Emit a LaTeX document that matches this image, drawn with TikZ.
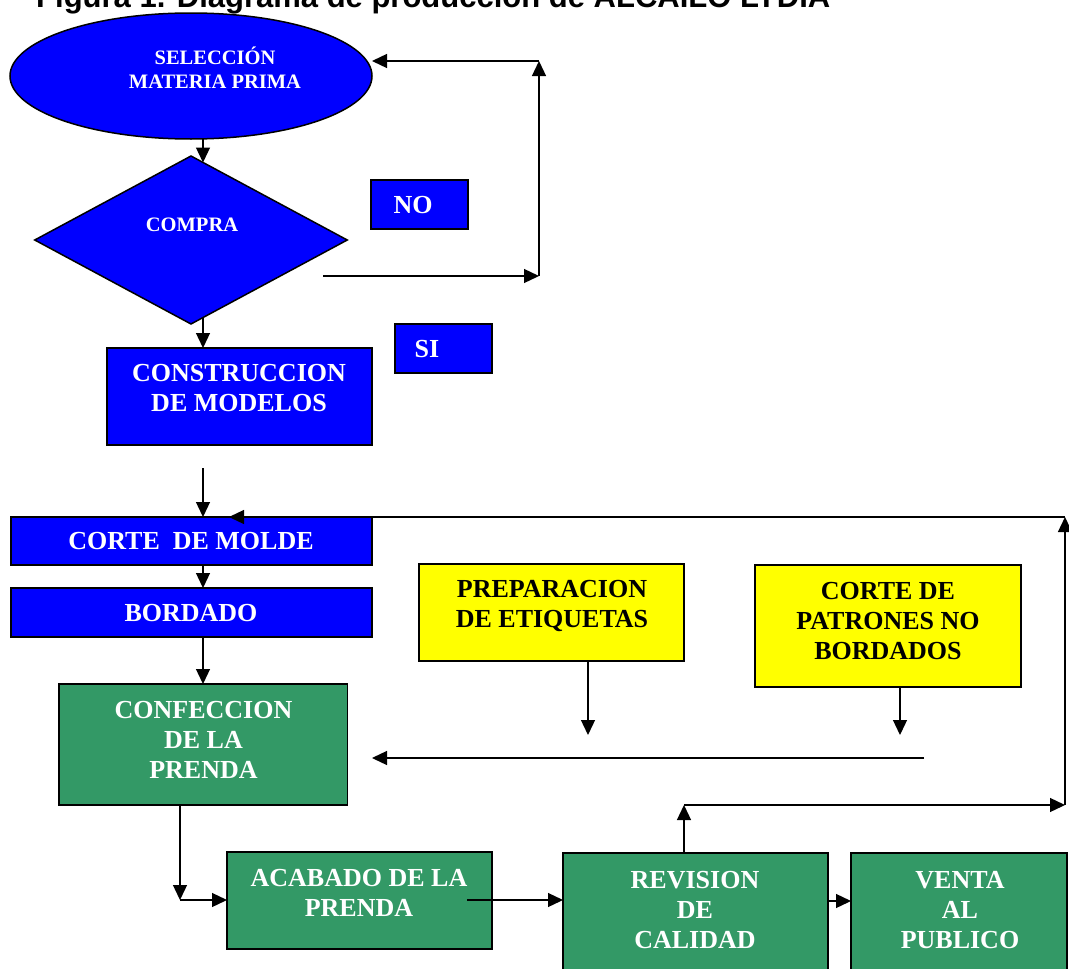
\documentclass[tikz,border=0pt]{standalone}
\usepackage{fontspec}
\setmainfont{Liberation Serif}
\newfontfamily\titlefont{Liberation Sans}
\usetikzlibrary{arrows.meta,shapes.geometric,calc}
\definecolor{fblue}{RGB}{0,0,255}
\definecolor{fgreen}{RGB}{51,153,102}
\definecolor{fyellow}{RGB}{255,255,0}
\begin{document}
\begin{tikzpicture}[x=1pt,y=-1pt,
  shp/.style={draw=black,line width=1.5pt,inner sep=0pt,outer sep=0pt},
  bluebox/.style={shp,rectangle,fill=fblue},
  greenbox/.style={shp,rectangle,fill=fgreen},
  yellowbox/.style={shp,rectangle,fill=fyellow},
  wtxt/.style={text=white,font=\bfseries\fontsize{26}{30}\selectfont,align=center,inner sep=0pt},
  btxt/.style={text=black,font=\bfseries\fontsize{26}{30}\selectfont,align=center,inner sep=0pt},
  stxt/.style={text=white,font=\bfseries\fontsize{20.5}{24}\selectfont,align=center,inner sep=0pt},
  arr/.style={-{Triangle[length=15pt,width=14pt]},line width=1.3pt,draw=black}]
\useasboundingbox (0,0) rectangle (1069,969);
\clip (0,0) rectangle (1069,969);
\fill[white] (0,0) rectangle (1069,969);

% title (cut off at top)
\node[anchor=base west,inner sep=0pt,font=\titlefont\bfseries\fontsize{31}{36}\selectfont] (title) at (36,8) {Figura 1. Diagrama de producción de ALCAILO LYDIA};

% shapes
\node[shp,ellipse,fill=fblue,minimum width=362,minimum height=126] (ell) at (191,76) {};
\node[stxt] (ellT) at (215,68) {SELECCIÓN\\MATERIA PRIMA};
\node[shp,diamond,fill=fblue,minimum width=312.5,minimum height=168] (dia) at (191,240) {};
\node[stxt] (diaT) at (192,225) {COMPRA};
\node[bluebox,minimum width=97,minimum height=49] (no) at (419.5,204.5) {};
\node[wtxt] (noT) at (413,205) {NO};
\node[bluebox,minimum width=97,minimum height=49] (si) at (443.5,348.5) {};
\node[wtxt] (siT) at (427,349) {SI};
\node[bluebox,minimum width=265,minimum height=97] (cm) at (239.5,396.5) {};
\node[wtxt] (cmT) at (239,388) {CONSTRUCCION\\DE MODELOS};
\node[bluebox,minimum width=361,minimum height=48] (corte) at (191.5,541) {};
\node[wtxt] (corteT) at (191,541) {CORTE\ \ DE MOLDE};
\node[bluebox,minimum width=361,minimum height=49] (bord) at (191.5,612.5) {};
\node[wtxt] (bordT) at (191,613) {BORDADO};
\node[yellowbox,minimum width=265,minimum height=97] (prep) at (551.5,612.5) {};
\node[btxt] (prepT) at (552,606) {PREPARACION\\DE ETIQUETAS};
\node[yellowbox,minimum width=266,minimum height=122] (pat) at (888,626) {};
\node[btxt] (patT) at (888,621) {CORTE DE\\PATRONES NO\\BORDADOS};
\node[greenbox,minimum width=288.5,minimum height=121] (conf) at (203.25,744.5) {};
\node[wtxt] (confT) at (203.5,740) {CONFECCION\\DE LA\\PRENDA};
\node[greenbox,minimum width=265,minimum height=97] (acab) at (359.5,900.5) {};
\node[wtxt] (acabT) at (359,892.5) {ACABADO DE LA\\PRENDA};
\node[greenbox,minimum width=265,minimum height=121] (rev) at (695.5,913.5) {};
\node[wtxt] (revT) at (695,910.5) {REVISION\\DE\\CALIDAD};
\node[greenbox,minimum width=216,minimum height=121] (venta) at (959,913.5) {};
\node[wtxt] (ventaT) at (960,910.5) {VENTA\\AL\\PUBLICO};

% connectors
\coordinate (a1) at ($(ell.south)+(12,0)$);
\draw[arr] (a1) -- ($(dia.north)+(12,6.5)$);
\coordinate (a2) at ($(dia.south)+(12,-6.5)$);
\draw[arr] (a2) -- (a2 |- cm.north);

\coordinate (n1) at (323,276);
\coordinate (n2) at (539,276);
\coordinate (n3) at (539,61);
\draw[arr] (n1) -- (n2);
\draw[arr] (n2) -- (n3);
\draw[arr] (n3) -- (ell.east |- n3);

\coordinate (c1) at (203,468);
\draw[arr] (c1) -- (c1 |- corte.north);
\draw[arr] (c1 |- corte.south) -- (c1 |- bord.north);
\draw[arr] (c1 |- bord.south) -- (c1 |- conf.north);

\coordinate (p1) at (588,735);
\draw[arr] (p1 |- prep.south) -- (p1);
\coordinate (p2) at (900,735);
\draw[arr] (p2 |- pat.south) -- (p2);
\coordinate (h1) at (924,758);
\coordinate (h2) at (372,758);
\draw[arr] (h1) -- (h2);

\coordinate (k1) at (180,900);
\draw[arr] (k1 |- conf.south) -- (k1);
\draw[arr] (k1) -- (k1 -| acab.west);
\coordinate (k2) at (467,900);
\draw[arr] (k2) -- (k2 -| rev.west);
\coordinate (k3) at (828,901);
\draw[arr] (rev.east |- k3) -- (venta.west |- k3);

\coordinate (r1) at (684,805);
\coordinate (f1) at (1065,805);
\coordinate (f2) at (1065,517);
\coordinate (f3) at (229,517);
\draw[arr] (r1 |- rev.north) -- (r1);
\draw[arr] (r1) -- (f1);
\draw[arr] (f1) -- (f2);
\draw[arr] (f2) -- (f3);
\end{tikzpicture}
\end{document}
